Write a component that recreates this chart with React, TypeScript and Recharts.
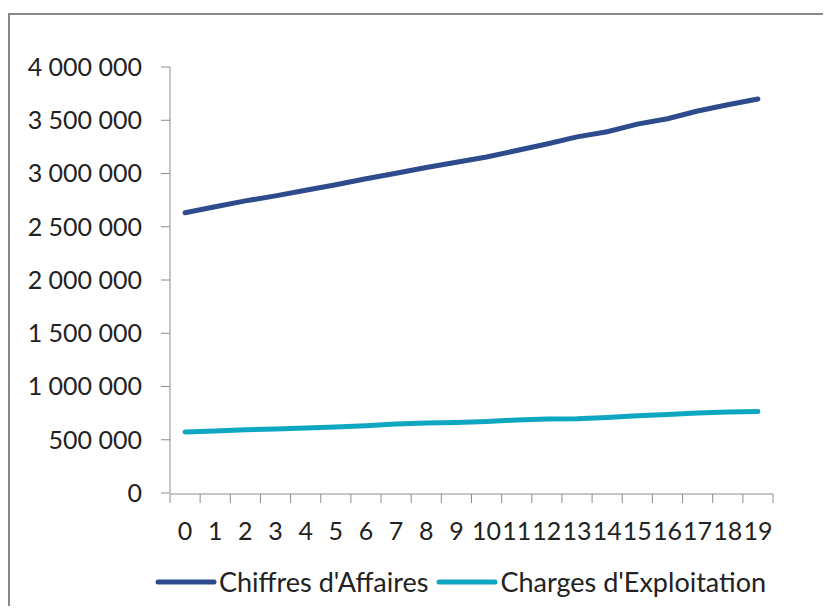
import { LineChart, Line, XAxis, YAxis, Legend } from 'recharts';

// années 0..19
const categories = [0, 1, 2, 3, 4, 5, 6, 7, 8, 9, 10, 11, 12, 13, 14, 15, 16, 17, 18, 19];

const chiffresAffaires = [
  2631000, 2688000, 2743000, 2790000, 2842000, 2895000, 2950000, 3003000, 3056000, 3105000,
  3155000, 3216000, 3277000, 3344000, 3392000, 3464000, 3514000, 3587000, 3645000, 3700000,
];

const chargesExploitation = [
  573000, 583000, 594000, 601000, 610000, 620000, 632000, 649000, 657000, 663000,
  672000, 685000, 695000, 698000, 710000, 726000, 738000, 751000, 761000, 765000,
];

const yTicks = [0, 500000, 1000000, 1500000, 2000000, 2500000, 3000000, 3500000, 4000000];

const series = [
  { key: 'ca', name: "Chiffres d'Affaires", color: '#2E4B8D' },
  { key: 'charges', name: "Charges d'Exploitation", color: '#0EA7C2' },
];

const FONT = 'Lato, "Open Sans", sans-serif';
const AXIS = '#8c8c8c';

// Excel place les graduations entre les catégories
const edges = [...categories.map(c => c - 0.5), categories[categories.length - 1] + 0.5];
const xDomain = [edges[0], edges[edges.length - 1]];

const formatNumber = (v: number) => String(v).replace(/\B(?=(\d{3})+(?!\d))/g, ' ');

export default function App() {
  const chartData = categories.map((c, i) => ({
    x: c,
    ca: chiffresAffaires[i],
    charges: chargesExploitation[i],
  }));

  const renderLegend = () => (
    <div style={{ display: 'flex', alignItems: 'center', fontFamily: FONT, fontSize: 27, color: '#222' }}>
      {series.map(s => (
        <div key={s.key} style={{ display: 'flex', alignItems: 'center', marginRight: 8 }}>
          <svg width={62} height={10} style={{ marginRight: 2 }}>
            <line x1={3} y1={5} x2={59} y2={5} stroke={s.color} strokeWidth={5} strokeLinecap="round" />
          </svg>
          <span>{s.name}</span>
        </div>
      ))}
    </div>
  );

  return (
    <div style={{ position: 'relative', width: 823, height: 598, overflow: 'hidden' }}>
      <div
        style={{
          position: 'absolute',
          left: 0,
          top: 5,
          width: 900,
          height: 700,
          borderTop: '2px solid #878787',
          borderLeft: '2px solid #878787',
        }}
      />
      <LineChart
        width={823}
        height={598}
        data={chartData}
        margin={{ top: 59, right: 58, left: 0, bottom: 75 }}
        style={{ position: 'absolute', left: 0, top: 0 }}
      >
        <XAxis
          xAxisId="edge"
          type="number"
          dataKey="x"
          domain={xDomain}
          ticks={edges}
          interval={0}
          tickFormatter={() => ''}
          tickSize={9}
          height={1}
          stroke={AXIS}
          allowDataOverflow
        />
        <XAxis
          xAxisId="cat"
          type="number"
          dataKey="x"
          domain={xDomain}
          ticks={categories}
          interval={0}
          axisLine={false}
          tickLine={false}
          tickSize={0}
          tickMargin={29}
          height={1}
          tick={{ fill: '#222', fontSize: 25, fontFamily: FONT }}
          allowDataOverflow
        />
        <YAxis
          domain={[0, 4000000]}
          ticks={yTicks}
          interval={0}
          width={162}
          tickSize={9}
          tickMargin={19}
          stroke={AXIS}
          tickFormatter={formatNumber}
          tick={{ fill: '#222', fontSize: 25, fontFamily: FONT }}
        />
        <Legend
          verticalAlign="bottom"
          content={renderLegend}
          wrapperStyle={{ top: 557, left: 147, width: 'auto', height: 36 }}
        />
        {series.map(s => (
          <Line
            key={s.key}
            xAxisId="cat"
            type="linear"
            dataKey={s.key}
            name={s.name}
            stroke={s.color}
            strokeWidth={5}
            strokeLinecap="round"
            dot={false}
            activeDot={false}
            isAnimationActive={false}
          />
        ))}
      </LineChart>
    </div>
  );
}
